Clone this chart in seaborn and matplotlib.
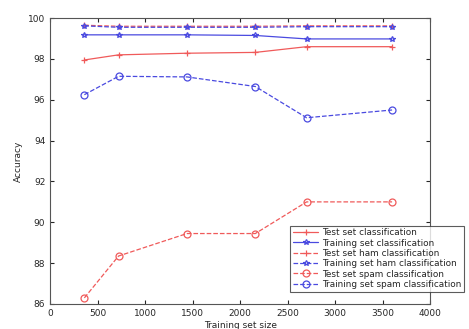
import numpy as np
import pandas as pd
import matplotlib
matplotlib.use('Agg')
import matplotlib.pyplot as plt
import seaborn as sns

sizes = [360, 720, 1440, 2160, 2700, 3600]

test_all = [97.95, 98.2, 98.28, 98.32, 98.6, 98.6]
train_all = [99.18, 99.18, 99.18, 99.15, 98.98, 98.98]
test_ham = [99.65, 99.6, 99.6, 99.6, 99.62, 99.62]
train_ham = [99.62, 99.55, 99.55, 99.55, 99.58, 99.58]
test_spam = [86.3, 88.35, 89.45, 89.45, 91.0, 91.0]
train_spam = [96.25, 97.15, 97.12, 96.65, 95.12, 95.5]

labels = ['Test set classification', 'Training set classification',
          'Test set ham classification', 'Training set ham classification',
          'Test set spam classification', 'Training set spam classification']

red = '#f05a5a'
blue = '#4a4ae0'

series = [test_all, train_all, test_ham, train_ham, test_spam, train_spam]
colors = [red, blue, red, blue, red, blue]
markers = ['+', '*', '+', '*', 'o', 'o']
msizes = [4, 4, 4, 4, 5, 5]
styles = ['-', '-', '--', '--', '--', '--']

sns.set_style('ticks')
plt.rcParams['font.family'] = ['DejaVu Sans']

fig = plt.figure(figsize=(4.69, 3.29), dpi=100)
ax = fig.add_axes([0.107, 0.076, 0.81, 0.869])

for vals, lab, c, m, ms, ls in zip(series, labels, colors, markers, msizes, styles):
    df = pd.DataFrame({'size': sizes, 'acc': vals})
    sns.lineplot(data=df, x='size', y='acc', ax=ax, color=c, marker=m,
                 linestyle=ls, linewidth=0.9, markersize=ms,
                 markerfacecolor='none', markeredgecolor=c, markeredgewidth=0.9,
                 label=lab)

ax.set_xlim(0, 4000)
ax.set_ylim(86, 100)
ax.set_xticks(np.arange(0, 4001, 500))
ax.set_yticks(np.arange(86, 101, 2))
ax.tick_params(direction='in', labelsize=6.5, length=3, top=True, right=True,
               labeltop=False, labelright=False)
for s in ax.spines.values():
    s.set_visible(True)
    s.set_linewidth(0.8)
    s.set_color('#555555')
ax.set_xlabel('Training set size', fontsize=6.5, labelpad=2)
ax.set_ylabel('Accuracy', fontsize=6.5, labelpad=4)

leg = ax.legend(loc='lower right', bbox_to_anchor=(1.1, 0.028), fontsize=6.4,
                frameon=True, fancybox=False, handlelength=2.8,
                borderpad=0.3, labelspacing=0.15, handletextpad=0.4)
leg.get_frame().set_edgecolor('#333333')
leg.get_frame().set_linewidth(0.8)
leg.set_clip_on(False)

fig.savefig('out.png', dpi=100)
